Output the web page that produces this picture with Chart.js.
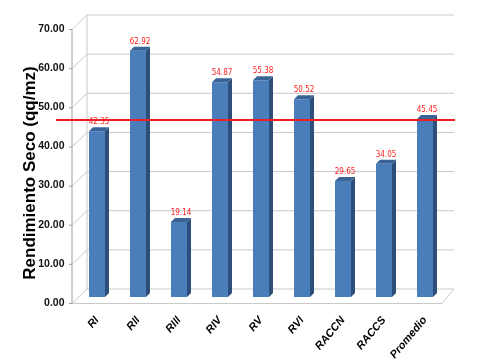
<!DOCTYPE html>
<html>
<head>
<meta charset="utf-8">
<script src="https://cdn.jsdelivr.net/npm/chart.js@4.4.0/dist/chart.umd.min.js"></script>
<style>
  html, body { margin: 0; padding: 0; background: #fff; }
  #wrap { width: 479px; height: 362px; }
</style>
</head>
<body>
<div id="wrap"><canvas id="grafico"></canvas></div>
<script>
// datos
var categorias = ["RI", "RII", "RIII", "RIV", "RV", "RVI", "RACCN", "RACCS", "Promedio"];
var rendimiento = [42.35, 62.92, 19.14, 54.87, 55.38, 50.52, 29.65, 34.05, 45.45];
var promedio = 45.45;
var ticksY = [0, 10, 20, 30, 40, 50, 60, 70];
var tituloY = 'Rendimiento Seco (qq/mz)';

// * marco 3D: pared del fondo, piso y lineas de grilla
var marco3D = {
    id: 'marco3D',
    beforeDatasetsDraw: function (chart) {
        var ctx = chart.ctx;
        var y = chart.scales.y;
        var area = chart.chartArea;
        var frontL = area.left - 4.5, backL = frontL + 15;
        var backR = area.right + 8.5, frontR = backR - 12;
        ctx.save();
        ctx.lineWidth = 1;
        ctx.strokeStyle = '#c9c9c9';
        ticksY.forEach(function (v) {
            var p = y.getPixelForValue(v);
            ctx.beginPath();
            ctx.moveTo(frontL, p + 6.5);
            ctx.lineTo(backL, p - 8);
            ctx.lineTo(backR, p - 8);
            ctx.stroke();
        });
        // piso
        var p0 = y.getPixelForValue(0);
        ctx.beginPath();
        ctx.moveTo(frontL, p0 + 6.5);
        ctx.lineTo(frontR, p0 + 6.5);
        ctx.lineTo(backR, p0 - 8);
        ctx.stroke();
        // pared izquierda
        ctx.beginPath();
        ctx.moveTo(backL, y.getPixelForValue(70) - 8);
        ctx.lineTo(backL, p0 - 8);
        ctx.stroke();
        // eje frontal con marcas
        ctx.strokeStyle = '#a0a0a0';
        ctx.beginPath();
        ctx.moveTo(frontL, y.getPixelForValue(70) + 6.5);
        ctx.lineTo(frontL, p0 + 6.5);
        ticksY.forEach(function (v) {
            var p = y.getPixelForValue(v) + 6.5;
            ctx.moveTo(frontL - 3, p);
            ctx.lineTo(frontL, p);
        });
        ctx.stroke();
        // titulo del eje Y
        ctx.fillStyle = '#000';
        ctx.font = 'bold 17px "Liberation Sans", Arial, sans-serif';
        ctx.textAlign = 'center';
        ctx.textBaseline = 'alphabetic';
        ctx.translate(35, 173);
        ctx.rotate(-Math.PI / 2);
        ctx.fillText(tituloY, 0, 0);
        ctx.restore();
    },
    afterDatasetsDraw: function (chart) {
        var ctx = chart.ctx;
        var meta = chart.getDatasetMeta(0);
        var d = 4;
        ctx.save();
        meta.data.forEach(function (bar, i) {
            var half = bar.width / 2;
            var r = bar.x + half, l = bar.x - half;
            // lado
            ctx.fillStyle = '#2d4e78';
            ctx.beginPath();
            ctx.moveTo(r, bar.y);
            ctx.lineTo(r + d, bar.y - d);
            ctx.lineTo(r + d, bar.base - d);
            ctx.lineTo(r, bar.base);
            ctx.closePath();
            ctx.fill();
            // tapa
            ctx.fillStyle = '#3a6396';
            ctx.beginPath();
            ctx.moveTo(l, bar.y);
            ctx.lineTo(l + d, bar.y - d);
            ctx.lineTo(r + d, bar.y - d);
            ctx.lineTo(r, bar.y);
            ctx.closePath();
            ctx.fill();
            // etiqueta
            ctx.fillStyle = '#ff2020';
            ctx.font = '8px "Liberation Sans Narrow", "DejaVu Sans Condensed", "Liberation Sans", sans-serif';
            ctx.textAlign = 'center';
            ctx.textBaseline = 'bottom';
            ctx.fillText(rendimiento[i].toFixed(2), bar.x + 2, bar.y - d - 1);
        });
        // linea del promedio
        var py = chart.scales.y.getPixelForValue(promedio) + 1;
        ctx.strokeStyle = '#ee1c25';
        ctx.lineWidth = 2;
        ctx.beginPath();
        ctx.moveTo(56, py);
        ctx.lineTo(chart.chartArea.right + 9.5, py);
        ctx.stroke();
        ctx.restore();
    }
};

var ctx = document.getElementById('grafico').getContext('2d');
var grafico = new Chart(ctx, {
    type: 'bar',
    data: {
        labels: categorias,
        datasets: [{
            data: rendimiento,
            backgroundColor: '#4a7ebb',
            categoryPercentage: 1,
            barPercentage: 0.39
        }]
    },
    options: {
        responsive: true,
        maintainAspectRatio: false,
        animation: false,
        layout: { padding: { top: 23, right: 33.5, left: 0, bottom: 0 } },
        plugins: {
            legend: { display: false },
            tooltip: { enabled: false }
        },
        scales: {
            y: {
                min: 0,
                max: 70,
                afterFit: function (s) { s.width = 76.5; },
                afterBuildTicks: function (s) { s.ticks = ticksY.map(function (v) { return { value: v }; }); },
                grid: { display: false, drawTicks: false },
                border: { display: false },
                ticks: {
                    padding: 12,
                    labelOffset: 6,
                    color: '#111',
                    font: { family: 'Liberation Sans, Arial', size: 10.5, weight: 'bold' },
                    callback: function (v) { return v.toFixed(2); }
                },
                title: { display: false }
            },
            x: {
                afterFit: function (s) { s.height = 65; },
                grid: { display: false, drawTicks: false },
                border: { display: false },
                ticks: {
                    minRotation: 50,
                    maxRotation: 50,
                    padding: 17,
                    color: '#000',
                    font: { family: 'Liberation Sans, Arial', size: 11, weight: 'bold', style: 'italic' }
                }
            }
        }
    },
    plugins: [marco3D]
});
</script>
</body>
</html>
